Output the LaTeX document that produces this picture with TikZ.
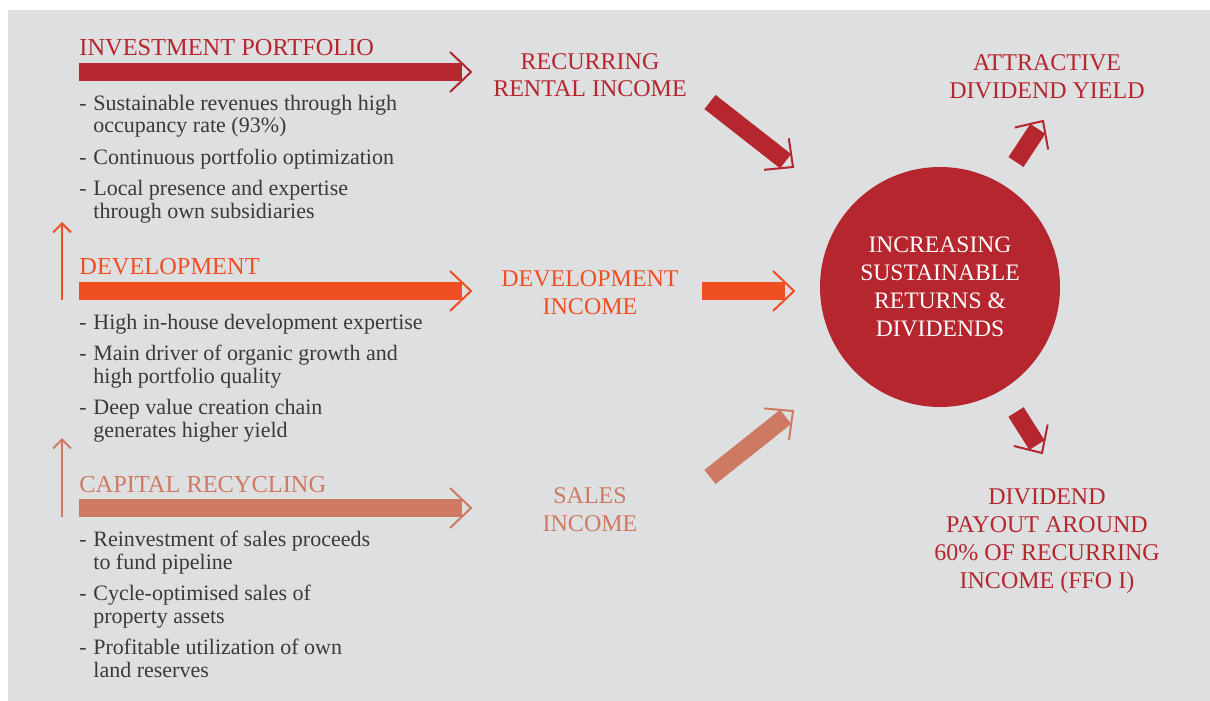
\documentclass[tikz,border=0pt]{standalone}
\usepackage{fontspec}
\setmainfont{Liberation Serif}
\usetikzlibrary{arrows.meta, calc, positioning}

\definecolor{portfolioRed}{HTML}{B5262E}
\definecolor{devOrange}{HTML}{F04E23}
\definecolor{recycleSalmon}{HTML}{CE7A63}
\definecolor{panelGray}{HTML}{DEDFE0}
\definecolor{bodyGray}{HTML}{3A3A3A}

\newcommand{\bulletdash}{\makebox[7pt][l]{-}}
\newcommand{\bulletind}{\hspace*{7pt}}

% thick bar with a thin open head
\newcommand{\fatarrow}[3]{%
  \draw[#1, line width=9pt, shorten >=4.7pt] (#2) -- (#3);
  \draw[#1, line width=1pt] ($(#3)!10.5pt!(#2)!10pt!90:(#2)$) -- (#3) -- ($(#3)!10.5pt!(#2)!10pt!-90:(#2)$);
}

\begin{document}
\begin{tikzpicture}[x=0.5pt, y=-0.5pt,
  heading/.style={anchor=base west, inner sep=0pt, font=\fontsize{12.2}{14}\selectfont},
  bullets/.style={anchor=base west, inner sep=0pt, align=left, text=bodyGray,
                  font=\fontsize{11}{11.25}\selectfont},
  caption/.style={anchor=base, inner sep=0pt, align=center, font=\fontsize{12}{13.9}\selectfont},
  hub/.style={circle, fill=portfolioRed, minimum size=120pt, inner sep=0pt, text=white,
              align=center, font=\fontsize{11.8}{14.1}\selectfont},
  thinup/.style={line width=1pt, -{Straight Barb[length=4.5pt, width=9pt]}}]
  \useasboundingbox (0,0) rectangle (1210,701);
  \fill[panelGray] (8,10) rectangle (1210,701);

  % left column (multi-line nodes sit on their last baseline)
  \node[heading, text=portfolioRed] (ipHead) at (79,56) {INVESTMENT PORTFOLIO};
  \node[bullets] (ipList) at (79,218) {\bulletdash Sustainable revenues through high\\
    \bulletind occupancy rate (93\%)\\[4.5pt]
    \bulletdash Continuous portfolio optimization\\[4.5pt]
    \bulletdash Local presence and expertise\\
    \bulletind through own subsidiaries};

  \node[heading, text=devOrange] (devHead) at (79,274) {DEVELOPMENT};
  \node[bullets] (devList) at (79,437) {\bulletdash High in-house development expertise\\[4.5pt]
    \bulletdash Main driver of organic growth and\\
    \bulletind high portfolio quality\\[4.5pt]
    \bulletdash Deep value creation chain\\
    \bulletind generates higher yield};

  \node[heading, text=recycleSalmon] (crHead) at (79,492) {CAPITAL RECYCLING};
  \node[bullets] (crList) at (79,677) {\bulletdash Reinvestment of sales proceeds\\
    \bulletind to fund pipeline\\[4.5pt]
    \bulletdash Cycle-optimised sales of\\
    \bulletind property assets\\[4.5pt]
    \bulletdash Profitable utilization of own\\
    \bulletind land reserves};

  % middle and right texts
  \node[caption, text=portfolioRed] (rentalInc) at (590,97) {RECURRING\\RENTAL INCOME};
  \node[caption, text=devOrange] (devInc) at (590,314) {DEVELOPMENT\\INCOME};
  \node[caption, text=recycleSalmon] (salesInc) at (590,531) {SALES\\INCOME};
  \node[hub] (returns) at (940,287) {INCREASING\\SUSTAINABLE\\RETURNS \&\\DIVIDENDS};
  \node[caption, text=portfolioRed] (yield) at (1047,98) {ATTRACTIVE\\DIVIDEND YIELD};
  \node[caption, text=portfolioRed] (payout) at (1047,588) {DIVIDEND\\PAYOUT AROUND\\60\% OF RECURRING\\INCOME (FFO I)};

  % arrow ends
  \coordinate (ipTail) at (79,72);    \coordinate (ipTip) at (471,72);
  \coordinate (devTail) at (79,291);  \coordinate (devTip) at (471,291);
  \coordinate (crTail) at (79,508);   \coordinate (crTip) at (471,508);
  \coordinate (rentalTail) at (710,102); \coordinate (rentalTip) at (793,167);
  \coordinate (devInTail) at (702,291);  \coordinate (devInTip) at (794,291);
  \coordinate (salesTail) at (710,477);  \coordinate (salesTip) at (793,411);
  \coordinate (yieldTail) at (1016,162); \coordinate (yieldTip) at (1043,121);
  \coordinate (payoutTail) at (1016,412); \coordinate (payoutTip) at (1042,453);
  \coordinate (devUpFoot) at (62,300);  \coordinate (devUpTop) at (62,222);
  \coordinate (crUpFoot) at (62,517);   \coordinate (crUpTop) at (62,438);

  \fatarrow{portfolioRed}{ipTail}{ipTip}
  \fatarrow{devOrange}{devTail}{devTip}
  \fatarrow{recycleSalmon}{crTail}{crTip}
  \fatarrow{portfolioRed}{rentalTail}{rentalTip}
  \fatarrow{devOrange}{devInTail}{devInTip}
  \fatarrow{recycleSalmon}{salesTail}{salesTip}
  \fatarrow{portfolioRed}{yieldTail}{yieldTip}
  \fatarrow{portfolioRed}{payoutTail}{payoutTip}

  \draw[thinup, devOrange] (devUpFoot) -- (devUpTop);
  \draw[thinup, recycleSalmon] (crUpFoot) -- (crUpTop);
\end{tikzpicture}
\end{document}
